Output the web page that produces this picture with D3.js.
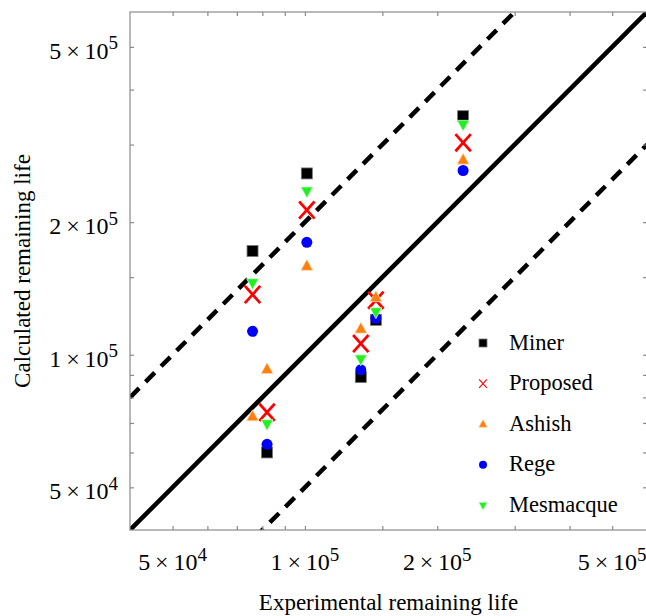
<!DOCTYPE html>
<html>
<head>
<meta charset="utf-8">
<script src="https://cdn.jsdelivr.net/npm/d3@7"></script>
<style>
  body { margin: 0; background: #fff; }
  text { font-family: "Liberation Serif", "Times New Roman", serif; }
</style>
</head>
<body>
<div id="chart-container"></div>
<script>
// experimental remaining life (x) for the six tests
const expLife = [76000, 82000, 101000, 134000, 145000, 229000];

// calculated remaining life (y) per model, same order as expLife
const miner     = [172000, 60000, 258000, 89000, 120000, 348000];
const proposed  = [137000, 74000, 213000, 106000, 133000, 303000];
const ashish    = [72400, 92700, 159000, 114500, 135000, 277000];
const rege      = [113000, 62600, 180000, 92400, 121000, 262000];
const mesmacque = [145500, 69600, 235000, 97700, 125000, 333000];

const seriesNames = ["Miner", "Proposed", "Ashish", "Rege", "Mesmacque"];

const tickValues = [5e4, 6e4, 7e4, 8e4, 9e4, 1e5, 1.5e5, 2e5, 3e5, 4e5, 5e5];
const labelTicks = [[5e4, "5", "4"], [1e5, "1", "5"], [2e5, "2", "5"], [5e5, "5", "5"]];

// ratio lines: y = k * x
const ratioLines = [1, 2, 0.5];

const width = 646, height = 616;
const mLeft = 130, mRight = 647, mTop = 12, mBottom = 530;

const svg = d3.select("#chart-container")
    .append("svg")
        .attr("width", width)
        .attr("height", height);

const x = d3.scaleLog().domain([4e4, 6e5]).range([mLeft, mRight]);
const y = d3.scaleLog().domain([4e4, 6e5]).range([mBottom, mTop]);

svg.append("clipPath").attr("id", "clip")
    .append("rect")
    .attr("x", mLeft).attr("y", mTop)
    .attr("width", mRight - mLeft).attr("height", mBottom - mTop);

// reference lines
const plot = svg.append("g").attr("clip-path", "url(#clip)");
ratioLines.forEach(k => {
    plot.append("line")
        .attr("x1", x(4e4)).attr("y1", y(4e4 * k))
        .attr("x2", x(6e5)).attr("y2", y(6e5 * k))
        .attr("stroke", "#000")
        .attr("stroke-width", 4.5)
        .attr("stroke-dasharray", k === 1 ? null : "13,9");
});

// frame with inward ticks
const gray = "#8a8a8a";
svg.append("rect")
    .attr("x", mLeft).attr("y", mTop)
    .attr("width", mRight - mLeft).attr("height", mBottom - mTop)
    .attr("fill", "none").attr("stroke", gray).attr("stroke-width", 1.2);

const axisBottom = d3.axisBottom(x).tickValues(tickValues).tickSizeInner(-4).tickSizeOuter(0).tickFormat("");
const axisTop = d3.axisTop(x).tickValues(tickValues).tickSizeInner(-4).tickSizeOuter(0).tickFormat("");
const axisLeft = d3.axisLeft(y).tickValues(tickValues).tickSizeInner(-4).tickSizeOuter(0).tickFormat("");
const axisRight = d3.axisRight(y).tickValues(tickValues).tickSizeInner(-4).tickSizeOuter(0).tickFormat("");

[[axisBottom, `translate(0,${mBottom})`], [axisTop, `translate(0,${mTop})`],
 [axisLeft, `translate(${mLeft},0)`], [axisRight, `translate(${mRight},0)`]].forEach(([ax, tr]) => {
    const g = svg.append("g").attr("transform", tr).call(ax);
    g.select(".domain").remove();
    g.selectAll("line").attr("stroke", gray).attr("stroke-width", 1.2);
});

// tick labels: m x 10^e
function sciLabel(sel, m, e) {
    sel.append("tspan").text(m + "\u2009\u00d7\u200910");
    sel.append("tspan").attr("dy", "-0.5em").attr("font-size", 19).text(e);
}

labelTicks.forEach(([v, m, e]) => {
    svg.append("text")
        .attr("x", x(v)).attr("y", 570)
        .attr("text-anchor", "middle")
        .attr("font-size", 24)
        .call(sciLabel, m, e);
    svg.append("text")
        .attr("x", 118).attr("y", y(v) + 12)
        .attr("text-anchor", "end")
        .attr("font-size", 24)
        .call(sciLabel, m, e);
});

svg.append("text")
    .attr("x", (mLeft + mRight) / 2).attr("y", 610)
    .attr("text-anchor", "middle")
    .attr("font-size", 23)
    .text("Experimental remaining life");

svg.append("text")
    .attr("transform", `translate(30,${(mTop + mBottom) / 2}) rotate(-90)`)
    .attr("text-anchor", "middle")
    .attr("font-size", 23)
    .text("Calculated remaining life");

// marker drawing
function drawMarker(g, type, s) {
    if (type === "Miner") {
        g.append("rect").attr("x", -s / 2).attr("y", -s / 2).attr("width", s).attr("height", s)
            .attr("fill", "#000").attr("stroke", "#777").attr("stroke-width", 0.8);
    } else if (type === "Proposed") {
        const w = s * 0.7, h = s * 0.78;
        g.append("path").attr("d", `M${-w},${-h}L${w},${h}M${w},${-h}L${-w},${h}`)
            .attr("stroke", "#ff0000").attr("stroke-width", s > 8 ? 2.7 : 1.1).attr("fill", "none");
    } else if (type === "Ashish") {
        const r = s * 0.6;
        g.append("path").attr("d", `M0,${-r}L${r * 0.9},${r * 0.65}L${-r * 0.9},${r * 0.65}Z`)
            .attr("fill", "#ff7f0e").attr("stroke", "#ffd8b0").attr("stroke-width", 0.8);
    } else if (type === "Rege") {
        g.append("circle").attr("r", s / 2).attr("fill", "#0000ff");
    } else {
        const r = s * 0.6;
        g.append("path").attr("d", `M0,${r}L${r * 0.9},${-r * 0.65}L${-r * 0.9},${-r * 0.65}Z`)
            .attr("fill", "#22ee22").attr("stroke", "#c8ffc8").attr("stroke-width", 0.8);
    }
}

const seriesData = [miner, proposed, ashish, rege, mesmacque];
const markerSize = [11, 11, 11, 11, 11];

seriesNames.forEach((name, i) => {
    seriesData[i].forEach((v, j) => {
        const g = svg.append("g")
            .attr("transform", `translate(${x(expLife[j])},${y(v)})`);
        drawMarker(g, name, markerSize[i]);
    });
});

// legend
const legend = svg.append("g").attr("transform", "translate(483,343)");
seriesNames.forEach((name, i) => {
    const g = legend.append("g").attr("transform", `translate(0,${i * 40.6})`);
    drawMarker(g, name, name === "Proposed" ? 5.5 : 8);
    g.append("text")
        .attr("x", 26).attr("y", 6.5)
        .attr("font-size", 22.5)
        .text(name);
});
</script>
</body>
</html>
